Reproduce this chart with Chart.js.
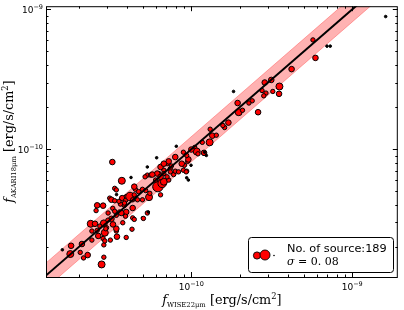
<!DOCTYPE html>
<html>
<head>
<meta charset="utf-8">
<script src="https://cdn.jsdelivr.net/npm/chart.js@4.4.0/dist/chart.umd.min.js"></script>
<style>
    html, body { margin: 0; padding: 0; background: #fff; }
    #wrap { width: 404px; height: 310px; }
</style>
</head>
<body>
<div id="wrap"><canvas id="fluxChart" width="404" height="310"></canvas></div>
<script>
// --- Data (fluxes in units of 1e-11 erg/s/cm2) ---
const wiseFlux = [
    1.58, 1.79, 1.77, 2.09, 2.04, 2.27, 2.14, 2.77, 2.86, 2.37, 2.52, 2.60, 2.56, 2.86, 2.70, 2.41,
    2.60, 2.90, 2.97, 2.83, 2.41, 3.14, 3.45, 3.42, 3.19, 3.03, 3.25, 3.58, 3.42, 3.94, 3.90, 3.63,
    3.84, 3.11, 3.43, 3.72, 3.95, 3.23, 3.70, 3.19, 3.55, 3.34, 2.86, 4.22, 3.42, 3.34, 3.90, 4.16,
    4.42, 4.49, 4.63, 4.97, 5.21, 5.46, 6.09, 6.14, 6.29, 6.75, 6.75, 5.33, 2.83, 3.04, 3.34, 3.67,
    4.32, 4.32, 4.97, 5.33, 3.75, 3.26, 2.94, 3.42, 4.28, 3.94, 2.90, 2.64, 6.20, 6.59, 9.59, 9.96,
    8.07, 6.09, 5.33, 7.95, 9.49, 9.06, 10.5, 7.07, 6.44, 7.41, 6.75, 7.76, 9.36, 6.14, 5.59, 5.16,
    6.75, 6.44, 5.52, 4.42, 3.84, 4.32, 4.70, 4.97, 5.41, 5.04, 4.42, 161.4, 57.0, 59.1, 69.7, 73.0,
    42.0, 35.3, 35.1, 32.1, 31.4, 28.6, 29.1, 28.2, 27.5, 26.0, 23.9, 22.8, 19.4, 19.7, 20.8, 18.3,
    17.0, 16.1, 15.7, 13.1, 13.5, 13.0, 11.7, 12.0, 10.8, 10.0, 12.1, 9.59, 8.93, 14.3, 11.0, 9.36,
    12.4, 7.24, 7.52, 6.75, 7.95, 8.72, 8.93, 9.29, 9.36, 7.41, 5.72, 6.44, 6.00, 7.24, 7.07, 8.33
];
const akariFlux = [
    1.91, 2.04, 1.78, 2.10, 1.83, 1.75, 1.67, 1.50, 1.69, 2.93, 2.93, 3.97, 3.64, 2.95, 2.82, 2.60,
    2.63, 2.53, 2.75, 2.30, 2.24, 2.24, 2.37, 2.60, 3.18, 3.11, 3.78, 3.56, 3.37, 3.56, 3.32, 4.05,
    3.97, 4.47, 4.74, 4.47, 4.59, 8.10, 5.95, 4.35, 4.24, 5.25, 2.07, 6.28, 5.12, 4.28, 4.30, 4.59,
    4.72, 5.17, 4.35, 5.17, 5.06, 4.54, 5.34, 5.86, 6.70, 7.08, 5.70, 6.53, 3.95, 3.50, 3.60, 3.50,
    3.80, 3.23, 3.23, 3.50, 2.98, 2.90, 2.70, 2.70, 2.68, 2.34, 2.21, 2.40, 5.40, 5.70, 6.02, 7.68,
    10.5, 8.69, 7.47, 8.79, 8.19, 7.68, 10.3, 7.88, 7.47, 7.27, 6.70, 6.59, 6.97, 6.70, 6.53, 6.35,
    5.86, 4.72, 4.84, 5.40, 4.12, 4.35, 4.98, 4.35, 3.56, 3.20, 3.15, 88.9, 60.5, 45.0, 54.6, 54.6,
    37.4, 28.1, 24.9, 25.9, 31.3, 30.0, 25.2, 24.1, 26.3, 18.4, 22.2, 21.4, 21.4, 18.4, 19.0, 25.9,
    15.5, 14.3, 14.8, 13.9, 12.5, 11.2, 11.2, 9.42, 9.63, 9.95, 9.52, 8.46, 9.52, 12.6, 9.27, 9.03,
    9.03, 8.19, 7.59, 7.88, 6.97, 7.88, 7.08, 6.89, 6.25, 6.89, 6.59, 6.35, 6.02, 6.02, 6.35, 6.89
];
// relative source weight (marker size class)
const sourceWeight = [
    1, 3, 4, 3, 2, 3, 2, 4, 2, 4, 3, 3, 2, 4, 2, 2,
    2, 4, 2, 2, 2, 2, 3, 2, 3, 2, 2, 2, 2, 3, 2, 2,
    2, 2, 1, 3, 2, 3, 4, 3, 2, 2, 2, 1, 2, 2, 2, 5,
    2, 2, 2, 2, 2, 4, 4, 2, 2, 2, 2, 2, 3, 2, 2, 3,
    3, 2, 1, 2, 2, 3, 2, 3, 2, 2, 2, 3, 6, 5, 1, 1,
    1, 1, 1, 3, 2, 2, 2, 2, 3, 2, 2, 2, 2, 3, 2, 2,
    4, 2, 2, 3, 2, 2, 2, 2, 1, 2, 2, 1, 2, 3, 1, 1,
    3, 4, 3, 2, 3, 3, 2, 2, 2, 3, 2, 2, 3, 4, 2, 1,
    3, 2, 2, 2, 3, 4, 2, 3, 4, 3, 1, 3, 2, 2, 2, 2,
    1, 3, 2, 3, 2, 3, 2, 2, 1, 2, 3, 3, 2, 2, 2, 2
];
const FLUX_UNIT = 1e-11;

const xRange = [1.25e-11, 1.92e-9];
const yRange = [1.22e-11, 1.054e-9];
const xMajorTicks = [1e-10, 1e-9];
const yMajorTicks = [1e-10, 1e-9];
const oneToOne = [1e-12, 1e-8];
const bandDex = 0.09;

const sourceCount = 189;
const sigmaText = '0. 08';

// --- helpers ---
const radiusFor = w => [0, 1.3, 2.2, 2.8, 3.5, 4.3, 5.2][w];

function drawRun(ctx, parts, x, baseline) {
    parts.forEach(p => {
        ctx.font = p.font;
        ctx.fillText(p.t, x, baseline + (p.dy || 0));
        x += ctx.measureText(p.t).width;
    });
}
function runWidth(ctx, parts) {
    let w = 0;
    parts.forEach(p => { ctx.font = p.font; w += ctx.measureText(p.t).width; });
    return w;
}
function powParts(v) {
    const e = Math.round(Math.log10(v));
    return [
        { t: '10', font: '9px "DejaVu Sans"' },
        { t: '\u2212' + Math.abs(e), font: '6.5px "DejaVu Sans"', dy: -4.5 }
    ];
}
function titleParts(sub) {
    return [
        { t: 'f', font: 'italic 12.8px "DejaVu Serif"' },
        { t: sub, font: '6.8px "DejaVu Serif"', dy: 2.5 },
        { t: ' [erg/s/cm', font: '12.8px "DejaVu Serif"' },
        { t: '2', font: '8.3px "DejaVu Serif"', dy: -5.5 },
        { t: ']', font: '12.8px "DejaVu Serif"' }
    ];
}

const axesDecor = {
    id: 'axesDecor',
    afterDraw(chart) {
        const { ctx, chartArea: a, scales: { x, y } } = chart;
        ctx.save();
        ctx.strokeStyle = '#000';
        ctx.lineWidth = 1;

        // inward ticks on all four sides
        ctx.beginPath();
        for (let d = -12; d <= -8; d++) {
            for (let m = 1; m <= 9; m++) {
                const v = m * Math.pow(10, d);
                const len = m === 1 ? 5 : 2.5;
                if (v >= x.min && v <= x.max) {
                    const px = Math.round(x.getPixelForValue(v)) + 0.5;
                    ctx.moveTo(px, a.bottom); ctx.lineTo(px, a.bottom - len);
                    ctx.moveTo(px, a.top); ctx.lineTo(px, a.top + len);
                }
                if (v >= y.min && v <= y.max) {
                    const py = Math.round(y.getPixelForValue(v)) + 0.5;
                    ctx.moveTo(a.left, py); ctx.lineTo(a.left + len, py);
                    ctx.moveTo(a.right, py); ctx.lineTo(a.right - len, py);
                }
            }
        }
        ctx.stroke();
        ctx.strokeRect(a.left + 0.5, a.top + 0.5, a.right - a.left - 1, a.bottom - a.top);

        // tick labels
        ctx.fillStyle = '#000';
        ctx.textBaseline = 'alphabetic';
        ctx.textAlign = 'left';
        xMajorTicks.forEach(v => {
            const parts = powParts(v);
            const w = runWidth(ctx, parts);
            drawRun(ctx, parts, x.getPixelForValue(v) - w / 2, a.bottom + 13);
        });
        yMajorTicks.forEach(v => {
            const parts = powParts(v);
            const w = runWidth(ctx, parts);
            drawRun(ctx, parts, a.left - 3 - w, y.getPixelForValue(v) + 4);
        });

        // axis titles
        const xt = titleParts('WISE22\u03bcm');
        drawRun(ctx, xt, (a.left + a.right) / 2 - runWidth(ctx, xt) / 2, 304);
        const yt = titleParts('AKARI18\u03bcm');
        ctx.save();
        ctx.translate(13, (a.top + a.bottom) / 2);
        ctx.rotate(-Math.PI / 2);
        drawRun(ctx, yt, -runWidth(ctx, yt) / 2, 0);
        ctx.restore();

        // legend
        ctx.beginPath();
        ctx.roundRect(248.5, 237.5, 145, 35, 3);
        ctx.fillStyle = '#fff';
        ctx.fill();
        ctx.stroke();
        ctx.fillStyle = '#f00';
        ctx.lineWidth = 0.9;
        [[257, 255.5, 3.6], [265, 255, 5]].forEach(([cx, cy, r]) => {
            ctx.beginPath();
            ctx.arc(cx, cy, r, 0, Math.PI * 2);
            ctx.fill();
            ctx.stroke();
        });
        ctx.fillStyle = '#000';
        ctx.beginPath();
        ctx.arc(274, 255.5, 0.8, 0, Math.PI * 2);
        ctx.fill();
        ctx.font = '11.3px "DejaVu Sans"';
        ctx.fillText('No. of source:' + sourceCount, 287, 251.5);
        drawRun(ctx, [
            { t: '\u03c3', font: 'italic 11px "DejaVu Serif"' },
            { t: ' = ' + sigmaText, font: '11px "DejaVu Serif"' }
        ], 287, 265);
        ctx.restore();
    }
};

// --- datasets ---
const sources = wiseFlux.map((v, i) => ({ x: v * FLUX_UNIT, y: akariFlux[i] * FLUX_UNIT }));
const upperBand = oneToOne.map(v => ({ x: v, y: v * Math.pow(10, bandDex) }));
const lowerBand = oneToOne.map(v => ({ x: v, y: v * Math.pow(10, -bandDex) }));
const unityLine = oneToOne.map(v => ({ x: v, y: v }));

const ctx = document.getElementById('fluxChart').getContext('2d');
new Chart(ctx, {
    type: 'scatter',
    data: {
        datasets: [
            {
                type: 'line', data: upperBand, showLine: true, pointRadius: 0,
                borderColor: 'rgba(255,0,0,0.3)', borderWidth: 1,
                backgroundColor: 'rgba(255,0,0,0.3)', fill: '+1', order: 3
            },
            {
                type: 'line', data: lowerBand, showLine: true, pointRadius: 0,
                borderColor: 'rgba(255,0,0,0.3)', borderWidth: 1, fill: false, order: 3
            },
            {
                data: sources,
                pointRadius: sourceWeight.map(radiusFor),
                backgroundColor: sourceWeight.map(w => w === 1 ? '#000' : '#ff0000'),
                borderColor: '#000',
                borderWidth: 1,
                order: 2
            },
            {
                type: 'line', data: unityLine, showLine: true, pointRadius: 0,
                borderColor: '#000', borderWidth: 2, fill: false, order: 1
            }
        ]
    },
    options: {
        responsive: false,
        animation: false,
        events: [],
        layout: { padding: { top: 1.5, right: 1, left: 0, bottom: 0 } },
        plugins: { legend: { display: false }, tooltip: { enabled: false } },
        scales: {
            x: {
                type: 'logarithmic', min: xRange[0], max: xRange[1],
                ticks: { display: false }, grid: { display: false }, border: { display: false },
                afterFit: s => { s.height = 33; }
            },
            y: {
                type: 'logarithmic', min: yRange[0], max: yRange[1],
                ticks: { display: false }, grid: { display: false }, border: { display: false },
                afterFit: s => { s.width = 46; }
            }
        }
    },
    plugins: [axesDecor]
});
</script>
</body>
</html>
